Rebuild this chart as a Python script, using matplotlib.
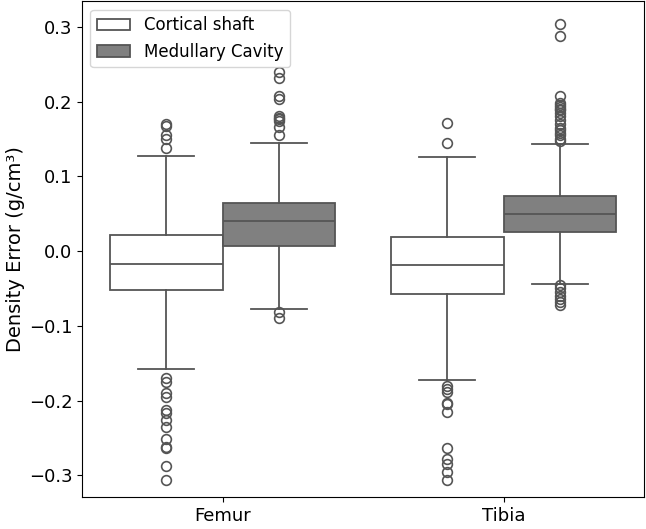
import matplotlib
matplotlib.use("Agg")
import matplotlib.pyplot as plt
from matplotlib.patches import Patch

# Summary statistics (g/cm^3)
bones = ["Femur", "Tibia"]
regions = ["Cortical shaft", "Medullary Cavity"]

cortical_q1 = [-0.052, -0.058]
cortical_med = [-0.018, -0.019]
cortical_q3 = [0.021, 0.019]
cortical_lo = [-0.158, -0.173]
cortical_hi = [0.127, 0.126]
cortical_fliers = [
    [0.170, 0.167, 0.155, 0.150, 0.138,
     -0.170, -0.175, -0.190, -0.195, -0.213, -0.217, -0.226, -0.235,
     -0.251, -0.262, -0.264, -0.287, -0.306],
    [0.171, 0.144,
     -0.180, -0.185, -0.189, -0.203, -0.205, -0.215, -0.263, -0.278,
     -0.285, -0.296, -0.306],
]

medullary_q1 = [0.007, 0.025]
medullary_med = [0.040, 0.050]
medullary_q3 = [0.064, 0.073]
medullary_lo = [-0.078, -0.044]
medullary_hi = [0.144, 0.143]
medullary_fliers = [
    [0.239, 0.231, 0.207, 0.203, 0.181, 0.178, 0.176, 0.174, 0.166, 0.155,
     -0.081, -0.090],
    [0.304, 0.287, 0.207, 0.198, 0.195, 0.192, 0.190, 0.188, 0.185, 0.180,
     0.175, 0.170, 0.165, 0.162, 0.158, 0.155, 0.150, 0.147,
     -0.046, -0.050, -0.055, -0.060, -0.064, -0.068, -0.072],
]

fill_colors = ["white", "#808080"]
line_color = "#555555"


def make_stats(q1, med, q3, lo, hi, fliers):
    return [
        dict(q1=q1[i], med=med[i], q3=q3[i], whislo=lo[i], whishi=hi[i],
             fliers=fliers[i])
        for i in range(len(bones))
    ]


fig = plt.figure(figsize=(6.46, 5.29), dpi=100)
ax = fig.add_axes([0.127, 0.0605, 0.870, 0.937])

groups = [
    make_stats(cortical_q1, cortical_med, cortical_q3, cortical_lo,
               cortical_hi, cortical_fliers),
    make_stats(medullary_q1, medullary_med, medullary_q3, medullary_lo,
               medullary_hi, medullary_fliers),
]
offsets = [-0.2, 0.2]

lw = 1.3
for stats, off, fc in zip(groups, offsets, fill_colors):
    ax.bxp(
        stats,
        positions=[i + off for i in range(len(bones))],
        widths=0.4,
        patch_artist=True,
        showfliers=True,
        boxprops=dict(facecolor=fc, edgecolor=line_color, linewidth=lw),
        medianprops=dict(color=line_color, linewidth=lw),
        whiskerprops=dict(color=line_color, linewidth=lw),
        capprops=dict(color=line_color, linewidth=lw),
        capwidths=0.2,
        flierprops=dict(marker="o", markerfacecolor="none",
                        markeredgecolor=line_color, markersize=7,
                        markeredgewidth=1.2),
        manage_ticks=False,
    )

ax.set_xlim(-0.5, 1.5)
ax.set_ylim(-0.329, 0.334)
ax.set_xticks(range(len(bones)))
ax.set_xticklabels(bones)
ax.set_yticks([-0.3, -0.2, -0.1, 0.0, 0.1, 0.2, 0.3])
ax.tick_params(labelsize=13)
ax.set_ylabel("Density Error (g/cm³)", fontsize=14, labelpad=3)

handles = [Patch(facecolor=c, edgecolor=line_color, linewidth=lw)
           for c in fill_colors]
ax.legend(handles, regions, loc="upper left", fontsize=12)

fig.savefig("out.png", dpi=100)
